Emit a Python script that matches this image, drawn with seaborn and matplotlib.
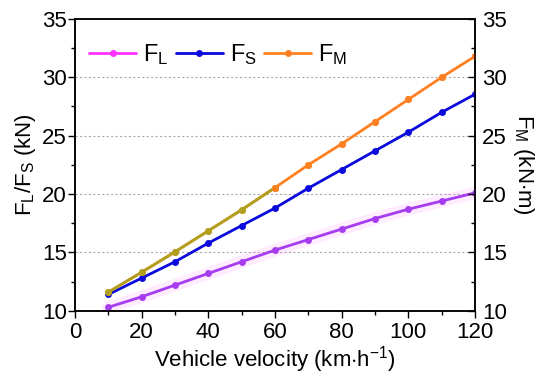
import numpy as np
import pandas as pd

import matplotlib
matplotlib.use("Agg")
import matplotlib.pyplot as plt
from matplotlib.ticker import MultipleLocator
import seaborn as sns

# Data
velocity = [10, 20, 30, 40, 50, 60, 70, 80, 90, 100, 110, 120]
f_l = [10.3, 11.2, 12.2, 13.2, 14.2, 15.2, 16.1, 17.0, 17.9, 18.7, 19.4, 20.1]
f_s = [11.4, 12.8, 14.2, 15.8, 17.3, 18.8, 20.5, 22.1, 23.7, 25.3, 27.0, 28.55]
f_m = [11.6, 13.3, 15.05, 16.85, 18.65, 20.55, 22.5, 24.3, 26.2, 28.1, 30.0, 31.8]

x_ticks = [0, 20, 40, 60, 80, 100, 120]
y_ticks = [10, 15, 20, 25, 30, 35]

df = pd.DataFrame({"v": velocity, "FL": f_l, "FS": f_s, "FM": f_m})

sns.set_style("ticks")
plt.rcParams["font.family"] = ["Liberation Sans", "DejaVu Sans"]
plt.rcParams["mathtext.fontset"] = "custom"
plt.rcParams["mathtext.rm"] = "Liberation Sans"
plt.rcParams["mathtext.it"] = "Liberation Sans:italic"
plt.rcParams["text.color"] = "black"
plt.rcParams["axes.labelcolor"] = "black"
plt.rcParams["xtick.color"] = "black"
plt.rcParams["ytick.color"] = "black"

c_l = "#a53cf0"
c_l_leg = "#ff33ff"
c_s = "#0a0adc"
c_m = "#ff8020"
c_m_low = "#b0a020"

fig = plt.figure(figsize=(5.5, 3.79), dpi=100)
ax = fig.add_axes([0.1364, 0.180, 0.7272, 0.770])

# Dashed horizontal grid
for y in y_ticks[1:-1]:
    ax.axhline(y, color="#aaaaaa", ls=(0, (2, 2)), lw=0.8, zorder=0)

# Pink haze under F_L
ax.plot(df["v"], df["FL"], color="#ff66ff", lw=9, alpha=0.12, zorder=1)

lw = 2.0
ms = 5
sns.lineplot(data=df, x="v", y="FL", ax=ax, color=c_l, lw=lw, marker="o",
             markersize=ms, markeredgewidth=0, zorder=3)
sns.lineplot(data=df, x="v", y="FS", ax=ax, color=c_s, lw=lw, marker="o",
             markersize=ms, markeredgewidth=0, zorder=3)
sns.lineplot(data=df, x="v", y="FM", ax=ax, color=c_m, lw=lw, marker="o",
             markersize=ms, markeredgewidth=0, zorder=4)
low = df[df["v"] <= 60]
sns.lineplot(data=low, x="v", y="FM", ax=ax, color=c_m_low, lw=lw, marker="o",
             markersize=ms, markeredgewidth=0, zorder=5)
high = df[df["v"] >= 60]
ax.plot(high["v"], high["FM"], ls="none", marker="o", color=c_m,
        markersize=ms, markeredgewidth=0, zorder=6)

ax.set_xlim(0, 120)
ax.set_ylim(10, 35)
ax.set_xticks(x_ticks)
ax.set_yticks(y_ticks)
ax.xaxis.set_minor_locator(MultipleLocator(10))
ax.yaxis.set_minor_locator(MultipleLocator(2.5))
ax.tick_params(which="major", direction="out", length=5, width=1, labelsize=16, pad=1)
ax.tick_params(axis="x", which="major", pad=3)
ax.tick_params(which="minor", direction="out", length=3, width=1)
for s in ax.spines.values():
    s.set_linewidth(1.1)
    s.set_color("black")

ax.set_xlabel(r"Vehicle velocity (km$\cdot$h$^{-1}$)", fontsize=16, labelpad=1)
ax.set_ylabel(r"F$_\mathrm{L}$/F$_\mathrm{S}$ (kN)", fontsize=16, labelpad=3)

# Right axis for F_M
ax2 = ax.twinx()
ax2.set_ylim(10, 35)
ax2.set_yticks(y_ticks)
ax2.yaxis.set_minor_locator(MultipleLocator(2.5))
ax2.tick_params(which="major", direction="in", length=5, width=1, labelsize=16, pad=5)
ax2.tick_params(which="minor", direction="in", length=3, width=1)
ax2.set_ylabel(r"F$_\mathrm{M}$ (kN$\cdot$m)", fontsize=16, rotation=270, labelpad=21)
for s in ax2.spines.values():
    s.set_linewidth(1.1)
    s.set_color("black")

# Legend
handles = [
    plt.Line2D([], [], color=c_l_leg, lw=lw, marker="o", markersize=ms, markeredgewidth=0),
    plt.Line2D([], [], color=c_s, lw=lw, marker="o", markersize=ms, markeredgewidth=0),
    plt.Line2D([], [], color=c_m, lw=lw, marker="o", markersize=ms, markeredgewidth=0),
]
labels = [r"F$_\mathrm{L}$", r"F$_\mathrm{S}$", r"F$_\mathrm{M}$"]
ax.legend(handles, labels, loc="upper left", ncol=3, frameon=False, fontsize=17,
          handlelength=2.0, handletextpad=0.3, columnspacing=0.3,
          bbox_to_anchor=(0.0, 0.97), borderaxespad=0.2)

fig.savefig("out.png", dpi=100)
